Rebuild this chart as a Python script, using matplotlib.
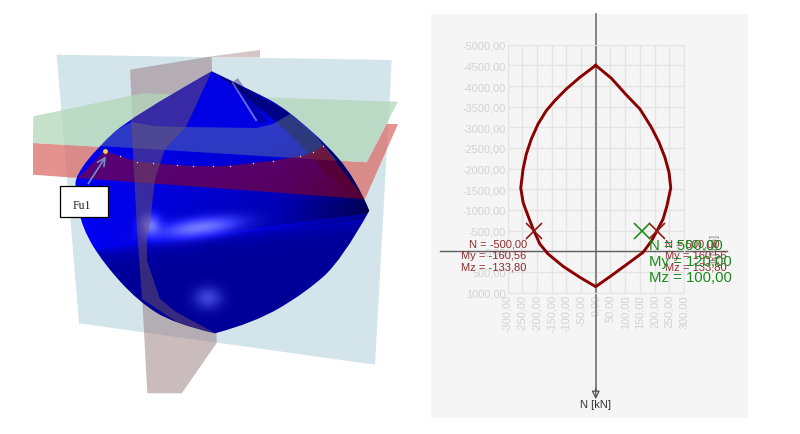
import numpy as np
from matplotlib import pyplot as plt
from matplotlib.path import Path
from matplotlib.patches import PathPatch, Polygon, Rectangle

plt.rcParams['font.family'] = ['Liberation Sans', 'DejaVu Sans']

# interaction curve
curve_my = [0, -54, -100, -139, -168, -196, -219, -236, -247, -255, -247, -239, -224, -210, -190,
            -162, -111, -54, 0, 53, 115, 161, 190, 208, 229, 242, 255, 249, 235, 215, 189, 150,
            104, 53, 0]
curve_n = [-4500, -4210, -3929, -3647, -3405, -3082, -2719, -2356, -1993, -1533, -1186, -1024, -742,
           -491, -176, 65, 364, 630, 856, 590, 267, 25, -257, -491, -782, -1100, -1533, -1912,
           -2275, -2638, -3001, -3445, -3784, -4188, -4500]
cross_my = [-209, 209]
cross_n = [-500, -500]
load_my = [156]
load_n = [-500]
x_ticks = [-300, -250, -200, -150, -100, -50, 0, 50, 100, 150, 200, 250, 300]
y_ticks = [-5000, -4500, -4000, -3500, -3000, -2500, -2000, -1500, -1000, -500, 0, 500, 1000]
left_text = ['N = -500,00', 'My = -160,56', 'Mz = -133,80']
right_text = ['N = 500,00', 'My = 160,56', 'Mz = 133,80']
load_text = ['N = 500,00', 'My = 120,00', 'Mz = 100,00']

# outlines of the 3D picture on the left, in image pixels
sheet_blue = [(56.7, 55.7), (391.7, 61), (375, 365.7), (79, 324.3)]
sheet_brown = [(130, 70.7), (211.7, 57.3), (216.7, 344), (181.7, 394.3), (147.3, 394.3)]
sheet_brown_back = [(211.7, 57.3), (260, 51), (260, 58.5), (211.7, 58.5)]
sheet_green = [(33.3, 117.3), (143, 94.3), (398, 102.7), (366.7, 163.3), (33, 144)]
sheet_red = [(33, 144), (366.7, 163.3), (386.7, 125), (398, 125), (365, 200), (33, 175.7)]
hull_left = [(211.7, 72.3), (131, 118), (98, 148), (76, 176), (75, 192), (82, 229),
             (104, 265), (139, 303), (175, 325), (215, 334.3)]
hull_right = [(215, 334.3), (254, 324), (305, 294), (342, 261), (369.3, 211.7)]
hull_top = [(369.3, 211.7), (365, 200), (341, 159), (287, 110), (253, 92), (211.7, 72.3)]
green_cut = [(100, 147), (118, 130), (131.7, 123), (153, 127), (186.7, 128), (256.7, 129),
             (273, 125), (290, 115), (310, 130), (336.7, 161.7)]
dots = [(105, 151.7), (120, 157.3), (136.7, 162.7), (153.3, 164.3), (176.7, 166), (193.3, 167),
        (213.3, 167.3), (230, 166.7), (253.3, 164), (273.3, 161.7), (300, 157.3), (313.3, 153.3),
        (323.3, 146.7)]
brown_front = [(131, 118), (211.7, 72.3), (186, 128), (165, 150), (155, 180), (150, 225), (147, 240),
               (147, 262), (160, 300), (176, 313), (215, 334), (180, 325), (142, 300), (137, 230)]
dark_facet = [(211.7, 72.3), (253, 93), (286.7, 111.7), (340, 160), (369, 205), (330, 178),
              (300, 145), (275, 122), (258, 108), (240, 92)]
bright_facet = [(211.7, 72.3), (186, 128), (256, 129), (238, 98)]


def curve_through(pts):
    # quadratic pieces between the midpoints, ends stay sharp
    pts = np.array(pts, dtype=float)
    verts = [pts[0]]
    for i in range(1, len(pts) - 2):
        verts += [pts[i], (pts[i] + pts[i + 1]) / 2]
    verts += [pts[-2], pts[-1]]
    return verts


fig = plt.figure(figsize=(8, 4.35), dpi=100)

# full figure axes in pixels for the picture and the panel
art = fig.add_axes([0, 0, 1, 1], zorder=0)
art.set_xlim(0, 800)
art.set_ylim(435, 0)
art.axis('off')

art.add_patch(Polygon(sheet_brown_back, color=(214/255, 196/255, 198/255), lw=0))
art.add_patch(Polygon(sheet_blue, color=(211/255, 228/255, 234/255), lw=0))
art.add_patch(Polygon(sheet_brown, color=(150/255, 120/255, 125/255), alpha=0.5, lw=0))
art.add_patch(Polygon(sheet_red, color=(220/255, 110/255, 105/255), alpha=0.75, lw=0))
art.add_patch(Polygon(sheet_green, color=(180/255, 215/255, 185/255), alpha=0.75, lw=0))

# surface of the solid, shaded with an image clipped to the outline
verts = curve_through(hull_left) + curve_through(hull_right)[1:] + curve_through(hull_top)[1:]
verts = verts + [verts[0]]
codes = [Path.MOVETO]
for part in (hull_left, hull_right, hull_top):
    n = len(curve_through(part)) - 1
    codes += [Path.CURVE3] * n
codes += [Path.CLOSEPOLY]
hull = PathPatch(Path(verts, codes), facecolor='none', edgecolor='none')
art.add_patch(hull)

xx, yy = np.meshgrid(np.linspace(70, 375, 610), np.linspace(65, 340, 550))
ridge = 243 - (xx - 150) * 0.13
blue = np.where(yy < ridge, 0.9 - (xx - 130) * 0.0014 * np.clip((yy - 130) / 80, 0, 1),
                0.6 + 0.3 * np.exp(-(yy - ridge) / 7))
blue = blue - 0.25 * np.clip((xx - 280) / 90, 0, 1) * (yy < ridge + 5)
white = 0.45 * np.exp(-((xx - 200) / 38)**2 - ((yy - ridge + 8) / 9)**2)
white = white + 0.25 * np.exp(-((xx - 208) / 14)**2 - ((yy - 299) / 11)**2)
white = white + 0.42 * np.exp(-((xx - 150) / 10)**2 - ((yy - 226) / 10)**2)
rgb = np.dstack([white, white * 1.05, np.clip(blue + white, 0, 1)])
img = art.imshow(np.clip(rgb, 0, 1), extent=(70, 375, 340, 65), aspect='auto',
                 interpolation='bilinear', zorder=2)
img.set_clip_path(hull)
art.set_xlim(0, 800)
art.set_ylim(435, 0)


def on_hull(pts, color, alpha):
    patch = Polygon(pts, color=color, alpha=alpha, lw=0, zorder=3)
    art.add_patch(patch)
    patch.set_clip_path(hull)


on_hull(dark_facet, (0, 0, 80/255), 0.65)
on_hull(bright_facet, (0, 0, 228/255), 1)
art.plot([233, 256], [84, 121], color='white', lw=1.5, alpha=0.4, zorder=3)
art.plot([237, 262], [84, 121], color=(0, 0, 90/255), lw=5, alpha=0.35, zorder=3)
on_hull(green_cut, (150/255, 190/255, 130/255), 0.3)
on_hull(dots + [(365, 200), (78, 179)], (160/255, 0, 20/255), 0.55)
on_hull(brown_front, (110/255, 85/255, 100/255), 0.5)

art.plot([p[0] for p in dots], [p[1] for p in dots], ls='none', marker='o', ms=1,
         color='#e8e8d0', mew=0, zorder=4)
art.plot([105], [151.7], marker='o', ms=3.5, color='#f4d040', mew=0, zorder=5)
art.annotate('', xy=(107.5, 155), xytext=(86.7, 187), zorder=5,
             arrowprops=dict(arrowstyle='->', color='#7090c0', lw=1.2, mutation_scale=14))
art.add_patch(Rectangle((60.3, 187), 48, 31.3, facecolor='white', edgecolor='black', lw=0.9, zorder=6))
art.text(81.5, 206.5, 'Fu1', family='Liberation Serif', fontsize=8.5, ha='center', va='center',
         color='#222222', zorder=7)

art.add_patch(Rectangle((431, 15), 317, 404, color='#f5f5f5', lw=0))

# right panel, real data axes
ax = fig.add_axes([507.5 / 800, 1 - 293.6 / 435, 176.5 / 800, 247.9 / 435], zorder=1)
ax.patch.set_alpha(0)
ax.set_xlim(-300, 300)
ax.set_ylim(1000, -5000)
ax.set_xticks(x_ticks)
ax.set_yticks(y_ticks)
ax.set_xticklabels(['%d,00' % v for v in x_ticks], rotation=90, fontsize=7.9, color='#d2d2d2')
ax.set_yticklabels(['%d,00' % v for v in y_ticks], fontsize=7.9, color='#d2d2d2')
ax.tick_params(length=0, pad=1)
ax.grid(True, color='#e4e4e4', lw=1)
ax.set_axisbelow(True)
for s in ax.spines.values():
    s.set_color('#e4e4e4')

# axis lines run past the grid
ax.plot([0, 0], [-5746, 3390], color='#707070', lw=1.2, clip_on=False)
ax.plot([-529, 447], [0, 0], color='#606060', lw=1, clip_on=False)
ax.annotate('', xy=(0, 3580), xytext=(0, 3320), annotation_clip=False,
            arrowprops=dict(arrowstyle='-|>', fc='none', ec='#505050', lw=0.9, mutation_scale=12,
                            shrinkA=0, shrinkB=0))

ax.plot(curve_my, curve_n, color='#8b0000', lw=2.1, clip_on=False, zorder=5)
ax.plot(cross_my, cross_n, ls='none', marker='x', ms=11.5, mew=1.2, color='#8b1a1a', zorder=6)
ax.plot(load_my, load_n, ls='none', marker='x', ms=11.5, mew=1.2, color='#1f8f1f', zorder=6)

t = art.transData
ax.text(714, 234, '[kNm]', transform=t, rotation=90, fontsize=8, color='#909090', ha='center', va='top')
ax.text(596, 405.5, 'N [kN]', transform=t, fontsize=8, color='#333333', ha='center', va='center')
for i, y in enumerate([244.3, 256, 268]):
    ax.text(526.7, y, left_text[i], transform=t, fontsize=8, color='#8f2d2d', ha='right', va='center', zorder=7)
    ax.text(665, y, right_text[i], transform=t, fontsize=8, color='#8f2d2d', ha='left', va='center', zorder=7)
for i, y in enumerate([246, 262, 277.7]):
    ax.text(649.3, y, load_text[i], transform=t, fontsize=10.7, color='#1a8a1a', ha='left', va='center', zorder=8)

fig.savefig('out.png', dpi=100)
